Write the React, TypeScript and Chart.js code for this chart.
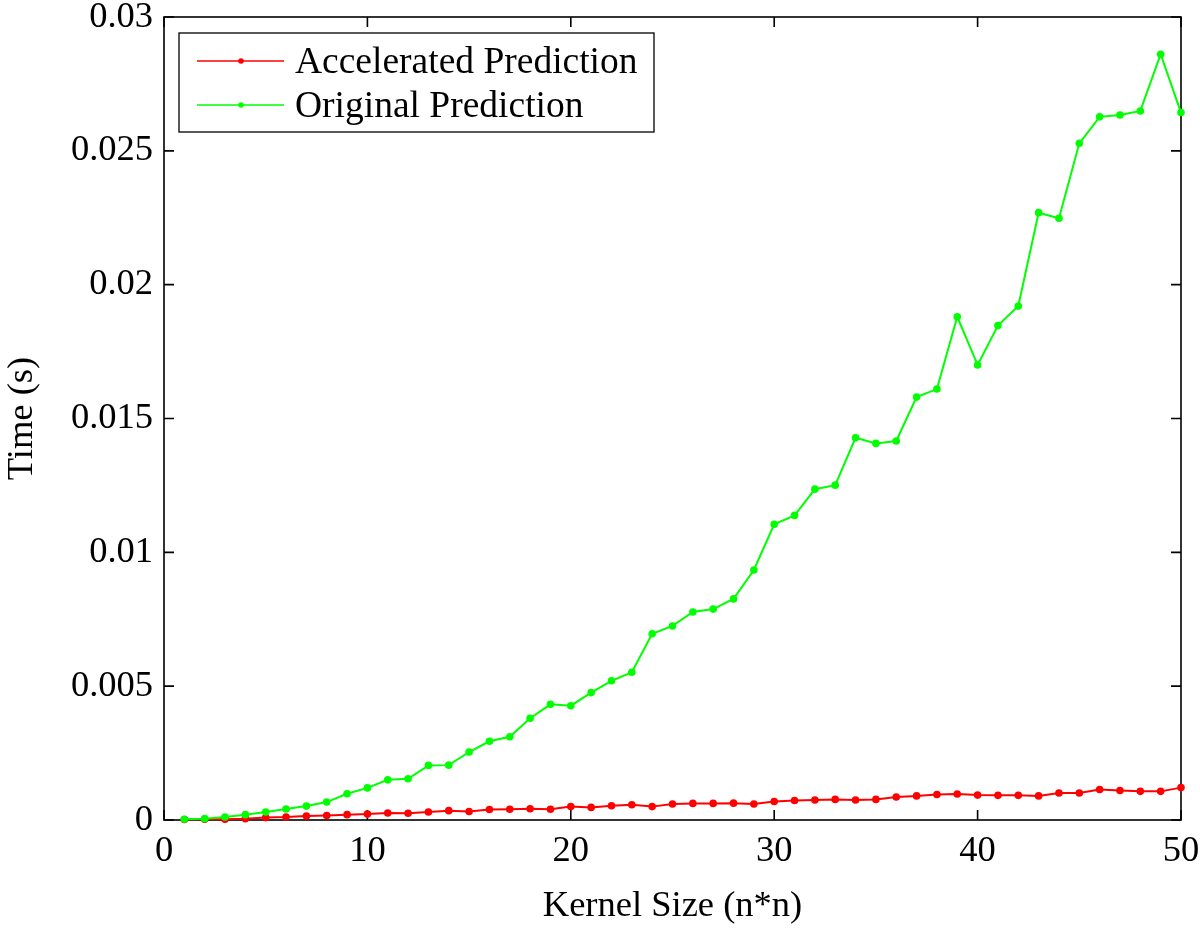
import React, { useEffect, useRef } from "react";
import { Chart, registerables } from "chart.js";

Chart.register(...registerables);

const kernelSizes = [
  1, 2, 3, 4, 5, 6, 7, 8, 9, 10, 11, 12, 13, 14, 15, 16, 17, 18, 19, 20, 21, 22, 23, 24, 25,
  26, 27, 28, 29, 30, 31, 32, 33, 34, 35, 36, 37, 38, 39, 40, 41, 42, 43, 44, 45, 46, 47, 48, 49, 50,
];

const acceleratedTimes = [
  0.00002, 0.00003, 0.00003, 0.00005, 0.00009, 0.00011, 0.00015, 0.00017, 0.0002, 0.00022,
  0.00026, 0.00025, 0.0003, 0.00035, 0.00032, 0.00039, 0.0004, 0.00042, 0.0004, 0.0005,
  0.00047, 0.00053, 0.00057, 0.0005, 0.0006, 0.00062, 0.00062, 0.00063, 0.0006, 0.00069,
  0.00073, 0.00075, 0.00077, 0.00075, 0.00077, 0.00086, 0.0009, 0.00095, 0.00097, 0.00093,
  0.00092, 0.00092, 0.0009, 0.00101, 0.00101, 0.00114, 0.0011, 0.00107, 0.00107, 0.00121,
];

const originalTimes = [
  0.00003, 0.00005, 0.00011, 0.0002, 0.0003, 0.00041, 0.00052, 0.00067, 0.00098, 0.0012,
  0.0015, 0.00154, 0.00204, 0.00205, 0.00254, 0.00294, 0.00311, 0.0038, 0.00432, 0.00427,
  0.00476, 0.0052, 0.00552, 0.00696, 0.00725, 0.00777, 0.00788, 0.00826, 0.00934, 0.01105,
  0.01138, 0.01236, 0.01251, 0.01428, 0.01407, 0.01416, 0.0158, 0.0161, 0.0188, 0.017,
  0.01847, 0.0192, 0.02269, 0.02248, 0.02528, 0.02627, 0.02634, 0.02649, 0.02861, 0.02643,
];

const seriesNames = ["Accelerated Prediction", "Original Prediction"];
const seriesColors = ["#ff0000", "#00ff00"];

const xTicks = [0, 10, 20, 30, 40, 50];
const yTicks = [0, 0.005, 0.01, 0.015, 0.02, 0.025, 0.03];
const yTickLabels = ["0", "0.005", "0.01", "0.015", "0.02", "0.025", "0.03"];

const FONT_FAMILY = "'Liberation Serif', 'Times New Roman', Times, serif";

const framePlugin = {
  id: "frameTicks",
  beforeDatasetsDraw(chart: any) {
    const { ctx, chartArea, scales } = chart;
    const { left, right, top, bottom } = chartArea;
    ctx.save();
    ctx.strokeStyle = "#000";
    ctx.lineWidth = 1.6;
    ctx.strokeRect(left, top, right - left, bottom - top);
    const tl = 10;
    ctx.beginPath();
    for (const v of xTicks) {
      const px = scales.x.getPixelForValue(v);
      ctx.moveTo(px, bottom);
      ctx.lineTo(px, bottom - tl);
      ctx.moveTo(px, top);
      ctx.lineTo(px, top + tl);
    }
    for (const v of yTicks) {
      const py = scales.y.getPixelForValue(v);
      ctx.moveTo(left, py);
      ctx.lineTo(left + tl, py);
      ctx.moveTo(right, py);
      ctx.lineTo(right - tl, py);
    }
    ctx.stroke();
    ctx.restore();
  },
};

const legendPlugin = {
  id: "insideLegend",
  afterDatasetsDraw(chart: any) {
    const { ctx, chartArea } = chart;
    const bx = chartArea.left + 15;
    const by = chartArea.top + 16;
    const bw = 475;
    const bh = 99;
    ctx.save();
    ctx.fillStyle = "#fff";
    ctx.fillRect(bx, by, bw, bh);
    ctx.strokeStyle = "#000";
    ctx.lineWidth = 1.3;
    ctx.strokeRect(bx, by, bw, bh);
    ctx.font = `37.5px ${FONT_FAMILY}`;
    ctx.textBaseline = "middle";
    ctx.textAlign = "left";
    seriesNames.forEach((name, i) => {
      const cy = by + 28 + i * 44;
      ctx.strokeStyle = seriesColors[i];
      ctx.lineWidth = 1.4;
      ctx.beginPath();
      ctx.moveTo(bx + 18, cy);
      ctx.lineTo(bx + 105, cy);
      ctx.stroke();
      ctx.fillStyle = seriesColors[i];
      ctx.beginPath();
      ctx.arc(bx + 62, cy, 2.8, 0, Math.PI * 2);
      ctx.fill();
      ctx.fillStyle = "#000";
      ctx.fillText(name, bx + 116, cy + 2);
    });
    ctx.restore();
  },
};

const zeroPadding = (scale: any) => {
  scale.paddingTop = 0;
  scale.paddingBottom = 0;
  scale.paddingLeft = 0;
  scale.paddingRight = 0;
};

export default function App() {
  const canvasRef = useRef<HTMLCanvasElement | null>(null);

  useEffect(() => {
    const canvas = canvasRef.current;
    if (!canvas) return;
    const chart = new Chart(canvas, {
      type: "line",
      data: {
        datasets: [
          {
            label: seriesNames[0],
            data: kernelSizes.map((k, i) => ({ x: k, y: acceleratedTimes[i] })),
            borderColor: seriesColors[0],
            backgroundColor: seriesColors[0],
            borderWidth: 2,
            pointRadius: 3.8,
            pointBorderWidth: 0,
            pointBackgroundColor: seriesColors[0],
            tension: 0,
            order: 1,
            clip: false as any,
          },
          {
            label: seriesNames[1],
            data: kernelSizes.map((k, i) => ({ x: k, y: originalTimes[i] })),
            borderColor: seriesColors[1],
            backgroundColor: seriesColors[1],
            borderWidth: 2,
            pointRadius: 3.8,
            pointBorderWidth: 0,
            pointBackgroundColor: seriesColors[1],
            tension: 0,
            order: 0,
            clip: false as any,
          },
        ],
      },
      options: {
        responsive: false,
        maintainAspectRatio: false,
        animation: false,
        devicePixelRatio: 1,
        layout: { padding: { top: 17, right: 19, left: 0, bottom: 0 } },
        plugins: {
          legend: { display: false },
          tooltip: { enabled: false },
          title: { display: false },
        },
        scales: {
          x: {
            type: "linear",
            min: 0,
            max: 50,
            afterBuildTicks: (scale: any) => {
              scale.ticks = xTicks.map((v) => ({ value: v }));
            },
            afterFit: (scale: any) => {
              scale.height = 113;
              zeroPadding(scale);
            },
            grid: { display: false, drawTicks: false },
            border: { display: false },
            ticks: {
              color: "#000",
              font: { family: FONT_FAMILY, size: 36.5 },
              padding: 10,
              maxRotation: 0,
              autoSkip: false,
              callback: (v: any) => String(v),
            },
            title: {
              display: true,
              text: "Kernel Size (n*n)",
              color: "#000",
              font: { family: FONT_FAMILY, size: 36.5 },
              padding: { top: 0, bottom: 5 },
            },
          },
          y: {
            type: "linear",
            min: 0,
            max: 0.03,
            afterBuildTicks: (scale: any) => {
              scale.ticks = yTicks.map((v) => ({ value: v }));
            },
            afterFit: (scale: any) => {
              scale.width = 164;
              zeroPadding(scale);
            },
            grid: { display: false, drawTicks: false },
            border: { display: false },
            ticks: {
              color: "#000",
              font: { family: FONT_FAMILY, size: 36.5 },
              padding: 11,
              autoSkip: false,
              callback: (v: any) => {
                const idx = yTicks.findIndex((t) => Math.abs(t - v) < 1e-9);
                return idx >= 0 ? yTickLabels[idx] : "";
              },
            },
            title: {
              display: true,
              text: "Time (s)",
              color: "#000",
              font: { family: FONT_FAMILY, size: 36.5 },
              padding: { top: 1, bottom: 0 },
            },
          },
        },
      },
      plugins: [framePlugin, legendPlugin],
    });
    return () => chart.destroy();
  }, []);

  return (
    <div style={{ position: "fixed", left: 0, top: 0, width: 1200, height: 933, background: "#fff" }}>
      <canvas ref={canvasRef} width={1200} height={933} style={{ width: 1200, height: 933, display: "block" }} />
    </div>
  );
}
